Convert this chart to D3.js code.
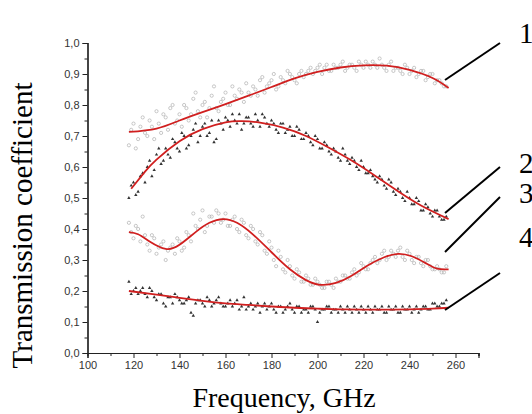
<!DOCTYPE html>
<html>
<head>
<meta charset="utf-8">
<script src="https://cdn.jsdelivr.net/npm/d3@7"></script>
<style>
  html, body { margin: 0; padding: 0; background: #fff; }
  svg { display: block; }
</style>
</head>
<body>
<svg id="chart" width="532" height="414"></svg>
<script>
// ---------- data ----------
const xTicks = [100, 120, 140, 160, 180, 200, 220, 240, 260];
const yTicks = [0.0, 0.1, 0.2, 0.3, 0.4, 0.5, 0.6, 0.7, 0.8, 0.9, 1.0];
const seriesLabels = ["1", "2", "3", "4"];

// measured points, grid A (even GHz)
const scatterFreq = [118,120,122,124,126,128,130,132,134,136,138,140,142,144,146,148,150,152,154,156,
  158,160,162,164,166,168,170,172,174,176,178,180,182,184,186,188,190,192,194,196,
  198,200,202,204,206,208,210,212,214,216,218,220,222,224,226,228,230,232,234,236,
  238,240,242,244,246,248,250,252,254,256];

const scatter1 = [0.67,0.74,0.69,0.76,0.70,0.73,0.78,0.71,0.76,0.79,0.74,0.77,0.80,0.75,0.82,0.78,0.80,0.76,0.83,0.79,
  0.81,0.84,0.80,0.83,0.85,0.81,0.84,0.86,0.83,0.89,0.86,0.88,0.85,0.89,0.87,0.90,0.88,0.90,0.89,0.91,
  0.90,0.92,0.90,0.93,0.91,0.92,0.93,0.91,0.93,0.92,0.94,0.92,0.93,0.94,0.92,0.93,0.91,0.94,0.92,0.91,
  0.93,0.90,0.92,0.90,0.91,0.89,0.90,0.88,0.87,0.86];

const scatter2 = [0.50,0.55,0.52,0.58,0.60,0.57,0.64,0.61,0.66,0.63,0.68,0.65,0.70,0.67,0.72,0.68,0.73,0.70,0.75,0.69,
  0.74,0.76,0.73,0.75,0.77,0.74,0.76,0.73,0.75,0.77,0.74,0.75,0.72,0.74,0.71,0.73,0.70,0.72,0.69,0.70,
  0.67,0.69,0.66,0.67,0.64,0.65,0.62,0.64,0.61,0.62,0.59,0.60,0.58,0.57,0.55,0.56,0.53,0.55,0.51,0.52,
  0.49,0.50,0.48,0.49,0.46,0.47,0.44,0.46,0.43,0.44];

const scatter3 = [0.42,0.37,0.40,0.44,0.35,0.38,0.32,0.35,0.30,0.34,0.32,0.36,0.34,0.38,0.45,0.40,0.46,0.41,0.44,0.46,
  0.42,0.45,0.41,0.44,0.39,0.42,0.37,0.40,0.35,0.38,0.32,0.34,0.28,0.31,0.26,0.28,0.24,0.26,0.23,0.24,
  0.22,0.23,0.21,0.23,0.22,0.24,0.23,0.25,0.24,0.27,0.26,0.28,0.27,0.30,0.29,0.32,0.30,0.33,0.31,0.34,
  0.30,0.32,0.29,0.31,0.28,0.30,0.27,0.28,0.26,0.28];

const scatter4 = [0.23,0.20,0.19,0.21,0.18,0.20,0.17,0.19,0.15,0.18,0.19,0.17,0.16,0.18,0.12,0.17,0.16,0.18,0.15,0.17,
  0.16,0.15,0.17,0.16,0.14,0.18,0.15,0.14,0.16,0.15,0.14,0.16,0.13,0.15,0.14,0.16,0.13,0.15,0.14,0.13,
  0.15,0.10,0.14,0.15,0.13,0.14,0.15,0.13,0.14,0.15,0.13,0.14,0.15,0.13,0.14,0.15,0.13,0.14,0.15,0.13,
  0.14,0.15,0.14,0.13,0.15,0.14,0.16,0.15,0.16,0.17];

// measured points, grid B (odd GHz)
const scatterFreqB = [119,121,123,125,127,129,131,133,135,137,
  139,141,143,145,147,149,151,153,155,157,
  159,161,163,165,167,169,171,173,175,177,
  179,181,183,185,187,189,191,193,195,197,
  199,201,203,205,207,209,211,213,215,217,
  219,221,223,225,227,229,231,233,235,237,
  239,241,243,245,247,249,251,253,255];

const scatter1B = [0.72,0.66,0.73,0.71,0.75,0.69,0.74,0.77,0.72,0.80,
  0.75,0.73,0.79,0.77,0.84,0.76,0.81,0.79,0.86,0.78,
  0.82,0.80,0.86,0.82,0.84,0.87,0.83,0.85,0.88,0.84,
  0.87,0.90,0.86,0.88,0.91,0.89,0.87,0.91,0.90,0.92,
  0.91,0.93,0.92,0.91,0.93,0.92,0.94,0.92,0.93,0.91,
  0.93,0.94,0.92,0.93,0.95,0.92,0.93,0.91,0.92,0.90,
  0.92,0.91,0.89,0.91,0.88,0.90,0.87,0.88,0.86];

const scatter2B = [0.54,0.51,0.57,0.55,0.62,0.59,0.66,0.62,0.64,0.69,
  0.66,0.71,0.66,0.70,0.74,0.70,0.74,0.71,0.68,0.75,
  0.72,0.75,0.77,0.74,0.72,0.76,0.74,0.77,0.73,0.76,
  0.73,0.74,0.71,0.74,0.72,0.70,0.73,0.69,0.71,0.68,
  0.70,0.66,0.68,0.65,0.66,0.63,0.66,0.62,0.63,0.60,
  0.62,0.58,0.59,0.56,0.57,0.54,0.56,0.52,0.53,0.50,
  0.52,0.48,0.50,0.46,0.48,0.45,0.46,0.44,0.43];

const scatter3B = [0.39,0.41,0.36,0.38,0.33,0.37,0.34,0.36,0.33,0.35,
  0.37,0.33,0.39,0.36,0.41,0.43,0.39,0.44,0.42,0.45,
  0.43,0.41,0.43,0.40,0.43,0.38,0.41,0.36,0.39,0.33,
  0.36,0.30,0.33,0.27,0.30,0.25,0.27,0.23,0.25,0.22,
  0.24,0.22,0.21,0.23,0.21,0.23,0.25,0.24,0.26,0.25,
  0.29,0.27,0.29,0.31,0.30,0.33,0.31,0.32,0.33,0.31,
  0.33,0.30,0.31,0.29,0.30,0.28,0.27,0.27,0.26];

const scatter4B = [0.19,0.21,0.20,0.19,0.21,0.18,0.19,0.16,0.18,0.16,
  0.18,0.16,0.17,0.13,0.16,0.17,0.15,0.17,0.16,0.18,
  0.15,0.16,0.15,0.17,0.15,0.14,0.16,0.15,0.13,0.16,
  0.15,0.14,0.15,0.13,0.15,0.14,0.15,0.13,0.14,0.15,
  0.14,0.13,0.14,0.15,0.14,0.13,0.14,0.15,0.13,0.14,
  0.15,0.13,0.14,0.15,0.14,0.13,0.15,0.14,0.13,0.15,
  0.14,0.13,0.15,0.14,0.15,0.14,0.16,0.15,0.16];

// fitted curves
const fit1Freq = [118,130,140,150,160,170,180,190,200,210,220,230,240,250,257];
const fit1Val  = [0.713,0.724,0.750,0.777,0.803,0.830,0.858,0.886,0.907,0.921,0.928,0.927,0.913,0.887,0.855];

const fit2Freq = [119,125,130,140,150,160,167,175,185,195,205,215,225,235,245,257];
const fit2Val  = [0.530,0.585,0.624,0.683,0.722,0.744,0.748,0.743,0.727,0.700,0.662,0.620,0.572,0.522,0.476,0.432];

const fit3Freq = [118,122,127,134,140,147,153,159,165,172,180,188,195,201,208,215,222,229,235,241,247,252,257];
const fit3Val  = [0.390,0.383,0.360,0.336,0.349,0.390,0.420,0.432,0.420,0.382,0.325,0.270,0.235,0.220,0.226,0.250,0.283,0.309,0.320,0.312,0.290,0.272,0.270];

const fit4Freq = [118,130,140,150,160,170,180,190,200,210,220,230,240,250,257];
const fit4Val  = [0.200,0.188,0.178,0.168,0.160,0.155,0.150,0.146,0.143,0.141,0.140,0.140,0.141,0.143,0.146];

// ---------- drawing ----------
const svg = d3.select("#chart");
const x = d3.scaleLinear().domain([100, 270]).range([87.5, 478.5]);
const y = d3.scaleLinear().domain([0, 1]).range([353, 43]);
const fmt = v => d3.format(".1f")(v).replace(".", ",");

// axes
const gx = svg.append("g").attr("transform", `translate(0,${y(0)})`);
gx.call(d3.axisBottom(x).tickValues(d3.range(110, 271, 20)).tickSize(3).tickFormat(""));
gx.call(g => g.selectAll(".tick text").remove());
const gx2 = svg.append("g").attr("transform", `translate(0,${y(0)})`);
gx2.call(d3.axisBottom(x).tickValues(xTicks).tickSize(5).tickPadding(3).tickFormat(d3.format("d")));

const gy = svg.append("g").attr("transform", `translate(${x(100)},0)`);
gy.call(d3.axisLeft(y).tickValues(d3.range(0.05, 1, 0.1)).tickSize(3).tickFormat(""));
const gy2 = svg.append("g").attr("transform", `translate(${x(100)},0)`);
gy2.call(d3.axisLeft(y).tickValues(yTicks).tickSize(5).tickPadding(3).tickFormat(fmt));

svg.selectAll(".domain").attr("stroke", "#222").attr("stroke-width", 1.2);
svg.selectAll(".tick line").attr("stroke", "#222").attr("stroke-width", 1);
svg.selectAll(".tick text")
  .attr("font-family", "Liberation Sans, Arial, sans-serif")
  .attr("font-size", 11)
  .attr("fill", "#333");

// scatter
const sets = [
  {f: scatterFreq.concat(scatterFreqB), v: scatter1.concat(scatter1B), type: "circle"},
  {f: scatterFreq.concat(scatterFreqB), v: scatter2.concat(scatter2B), type: "tri"},
  {f: scatterFreq.concat(scatterFreqB), v: scatter3.concat(scatter3B), type: "circle"},
  {f: scatterFreq.concat(scatterFreqB), v: scatter4.concat(scatter4B), type: "tri"}
];
const tri = d3.symbol().type(d3.symbolTriangle).size(5);
sets.forEach(s => {
  const g = svg.append("g");
  const pts = s.f.map((f, i) => [f, s.v[i]]);
  if (s.type === "circle") {
    g.selectAll("circle").data(pts).join("circle")
      .attr("cx", d => x(d[0])).attr("cy", d => y(d[1])).attr("r", 1.6)
      .attr("fill", "none").attr("stroke", "#b0b0b0").attr("stroke-width", 0.7);
  } else {
    g.selectAll("path").data(pts).join("path")
      .attr("d", tri).attr("transform", d => `translate(${x(d[0])},${y(d[1])})`)
      .attr("fill", "#333");
  }
});

// fits
const line = d3.line().x(d => x(d[0])).y(d => y(d[1])).curve(d3.curveNatural);
[[fit1Freq, fit1Val], [fit2Freq, fit2Val], [fit3Freq, fit3Val], [fit4Freq, fit4Val]].forEach(([f, v]) => {
  svg.append("path").datum(f.map((ff, i) => [ff, v[i]]))
    .attr("d", line).attr("fill", "none")
    .attr("stroke", "#d01f1f").attr("stroke-width", 1.8);
});

// series labels and pointer lines
const labelPos = [[519, 43], [519, 173], [519, 203], [519, 247]];
const pointers = [[[500, 43], [445, 80]], [[500, 167], [445, 213]], [[500, 197], [445, 252]], [[500, 273], [445, 310]]];
seriesLabels.forEach((t, i) => {
  svg.append("text").attr("x", labelPos[i][0]).attr("y", labelPos[i][1])
    .attr("font-family", "Liberation Serif, Times New Roman, serif")
    .attr("font-size", 29).attr("fill", "#000").text(t);
  svg.append("line")
    .attr("x1", pointers[i][0][0]).attr("y1", pointers[i][0][1])
    .attr("x2", pointers[i][1][0]).attr("y2", pointers[i][1][1])
    .attr("stroke", "#000").attr("stroke-width", 2);
});

// axis titles
svg.append("text").attr("x", 284).attr("y", 407).attr("text-anchor", "middle")
  .attr("font-family", "Liberation Serif, Times New Roman, serif")
  .attr("font-size", 28).attr("fill", "#000").text("Frequency, GHz");
svg.append("text").attr("transform", "translate(32,225.5) rotate(-90)").attr("text-anchor", "middle")
  .attr("font-family", "Liberation Serif, Times New Roman, serif")
  .attr("font-size", 29).attr("fill", "#000").text("Transmission coefficient");
</script>
</body>
</html>
